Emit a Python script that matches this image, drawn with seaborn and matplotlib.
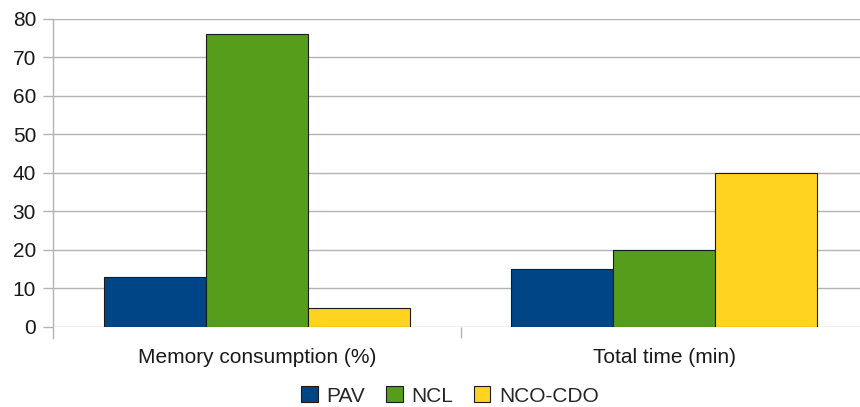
import matplotlib
matplotlib.use("Agg")
import matplotlib.pyplot as plt
import seaborn as sns
import pandas as pd

# Chart data
categories = ["Memory consumption (%)", "Total time (min)"]
series_names = ["PAV", "NCL", "NCO-CDO"]
pav_values = [13, 15]
ncl_values = [76, 20]
nco_cdo_values = [5, 40]
y_ticks = [0, 10, 20, 30, 40, 50, 60, 70, 80]

colors = ["#004586", "#579d1c", "#ffd320"]
grid_color = "#b3b3b3"
text_color = "#1a1a1a"
font_size = 15

sns.set_theme(style="white")
plt.rcParams["font.family"] = ["Liberation Sans", "DejaVu Sans"]

df = pd.DataFrame({
    "category": categories * 3,
    "tool": [s for s in series_names for _ in categories],
    "value": pav_values + ncl_values + nco_cdo_values,
})

W, H = 860, 407
fig = plt.figure(figsize=(W / 100, H / 100), dpi=100)
ax = fig.add_axes([53 / W, (H - 327) / H, (868 - 53) / W, (327 - 18.5) / H])

sns.barplot(data=df, x="category", y="value", hue="tool",
            hue_order=series_names, order=categories, palette=colors,
            width=0.75, edgecolor="#1a1a1a", linewidth=0.8,
            saturation=1, ax=ax, zorder=3)

ax.set_ylim(0, 80)
ax.set_xlim(-0.5, 1.5)
ax.set_yticks(y_ticks)
ax.set_yticklabels([str(v) for v in y_ticks])
ax.set_xlabel("")
ax.set_ylabel("")

# Horizontal gridlines
ax.yaxis.grid(True, color=grid_color, linewidth=1.0, zorder=0)
ax.xaxis.grid(False)
ax.set_axisbelow(True)

for side in ["top", "right", "bottom"]:
    ax.spines[side].set_visible(False)
ax.spines["left"].set_color(grid_color)
ax.spines["left"].set_linewidth(1.0)
ax.spines["left"].set_bounds(-2.85, 80)

ax.tick_params(axis="y", which="major", direction="out", length=7.2,
               width=1.0, color=grid_color, pad=5, labelsize=font_size,
               labelcolor=text_color, left=True)
ax.tick_params(axis="x", which="major", length=0, pad=15, labelsize=font_size,
               labelcolor=text_color)

# Separator tick between the two categories
ax.set_xticks([0.5], minor=True)
ax.tick_params(axis="x", which="minor", direction="out", length=8,
               width=1.0, color=grid_color, bottom=True)

sns.move_legend(ax, "center", bbox_to_anchor=(450 / W, (H - 396) / H),
                bbox_transform=fig.transFigure, ncol=3, frameon=False,
                title=None, fontsize=font_size, handlelength=0.8,
                handleheight=0.8, handletextpad=0.4, columnspacing=1.0,
                borderaxespad=0)

fig.savefig("out.png", dpi=100)
